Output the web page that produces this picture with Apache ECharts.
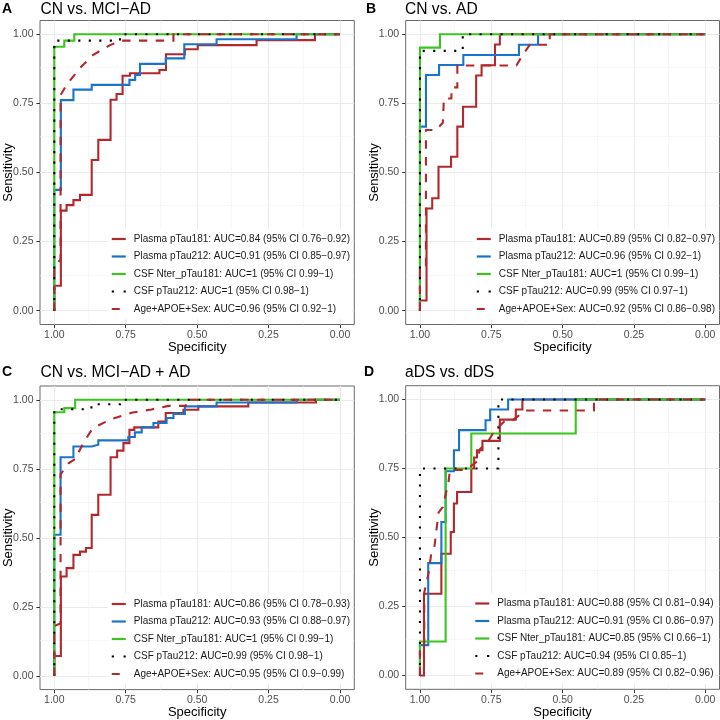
<!DOCTYPE html>
<html><head><meta charset="utf-8">
<script src="https://cdn.jsdelivr.net/npm/echarts@6/dist/echarts.min.js"></script>
<style>html,body{margin:0;padding:0;background:#fff}#c{width:720px;height:720px}</style>
</head><body><div id="c"></div>
<script>
// ---------- data ----------
const panelTags = ['A', 'B', 'C', 'D'];
const panelTitles = ['CN vs. MCI\u2212AD', 'CN vs. AD', 'CN vs. MCI\u2212AD + AD', 'aDS vs. dDS'];
const markerNames = ['Plasma pTau181', 'Plasma pTau212', 'CSF Nter_pTau181', 'CSF pTau212', 'Age+APOE+Sex'];

const aucA = ['AUC=0.84 (95% CI 0.76\u22120.92)', 'AUC=0.91 (95% CI 0.85\u22120.97)', 'AUC=1 (95% CI 0.99\u22121)', 'AUC=1 (95% CI 0.98\u22121)', 'AUC=0.96 (95% CI 0.92\u22121)'];
const aucB = ['AUC=0.89 (95% CI 0.82\u22120.97)', 'AUC=0.96 (95% CI 0.92\u22121)', 'AUC=1 (95% CI 0.99\u22121)', 'AUC=0.99 (95% CI 0.97\u22121)', 'AUC=0.92 (95% CI 0.86\u22120.98)'];
const aucC = ['AUC=0.86 (95% CI 0.78\u22120.93)', 'AUC=0.93 (95% CI 0.88\u22120.97)', 'AUC=1 (95% CI 0.99\u22121)', 'AUC=0.99 (95% CI 0.98\u22121)', 'AUC=0.95 (95% CI 0.9\u22120.99)'];
const aucD = ['AUC=0.88 (95% CI 0.81\u22120.94)', 'AUC=0.91 (95% CI 0.86\u22120.97)', 'AUC=0.85 (95% CI 0.66\u22121)', 'AUC=0.94 (95% CI 0.85\u22121)', 'AUC=0.89 (95% CI 0.82\u22120.96)'];

const tickValues = [0, 0.25, 0.5, 0.75, 1];
const majorGrid = [0, 0.25, 0.5, 0.75, 1];
const minorGrid = [0.125, 0.375, 0.625, 0.875];

// ROC points: [specificity, sensitivity]
const A_pTau181 = [[1,0],[1,0.09],[0.977,0.09],[0.977,0.362],[0.957,0.362],[0.957,0.382],[0.933,0.382],[0.933,0.40],[0.91,0.40],[0.91,0.419],[0.869,0.419],[0.869,0.545],[0.846,0.545],[0.846,0.618],[0.803,0.618],[0.803,0.763],[0.782,0.763],[0.782,0.784],[0.761,0.784],[0.761,0.85],[0.735,0.85],[0.735,0.859],[0.632,0.859],[0.632,0.871],[0.609,0.871],[0.609,0.928],[0.543,0.928],[0.543,0.946],[0.498,0.946],[0.498,0.961],[0.292,0.961],[0.292,0.979],[0.0875,0.979],[0.0875,1],[0,1]];
const A_pTau212 = [[1,0],[1,0.437],[0.977,0.437],[0.977,0.762],[0.933,0.762],[0.933,0.80],[0.869,0.80],[0.869,0.817],[0.737,0.817],[0.737,0.835],[0.717,0.835],[0.717,0.853],[0.70,0.853],[0.70,0.893],[0.61,0.893],[0.61,0.913],[0.545,0.913],[0.545,0.964],[0.432,0.964],[0.432,0.982],[0.152,0.982],[0.152,1],[0,1]];
const A_csfNter = [[1,0],[1,0.955],[0.965,0.955],[0.965,0.977],[0.93,0.977],[0.93,1],[0,1]];
const A_csfP212 = [[1,0],[1,0.977],[0.77,0.977],[0.77,1],[0,1]];
const A_age = [[1,0],[1,0.16],[0.978,0.185],[0.978,0.78],[0.957,0.817],[0.91,0.878],[0.865,0.925],[0.805,0.961],[0.763,0.977],[0.583,0.977],[0.583,1],[0,1]];

const B_pTau181 = [[1,0],[1,0.037],[0.977,0.037],[0.977,0.37],[0.957,0.37],[0.957,0.407],[0.935,0.407],[0.935,0.521],[0.891,0.521],[0.891,0.557],[0.869,0.557],[0.869,0.666],[0.849,0.666],[0.849,0.738],[0.803,0.738],[0.803,0.851],[0.784,0.851],[0.784,0.888],[0.737,0.888],[0.737,0.963],[0.72,0.963],[0.72,1],[0,1]];
const B_pTau212 = [[1,0],[1,0.666],[0.979,0.666],[0.979,0.853],[0.933,0.853],[0.933,0.889],[0.848,0.889],[0.848,0.925],[0.653,0.925],[0.653,0.962],[0.586,0.962],[0.586,1],[0,1]];
const B_csfNter = [[1,0],[1,0.952],[0.93,0.952],[0.93,1],[0,1]];
const B_csfP212 = [[1,0],[1,0.94],[0.85,0.94],[0.85,1],[0,1]];
const B_age = [[1,0],[1,0.155],[0.979,0.155],[0.979,0.654],[0.944,0.654],[0.92,0.68],[0.916,0.768],[0.89,0.768],[0.889,0.808],[0.869,0.808],[0.869,0.887],[0.662,0.887],[0.64,0.925],[0.615,0.962],[0.545,0.962],[0.545,1],[0,1]];

const C_pTau181 = [[1,0],[1,0.072],[0.977,0.072],[0.977,0.36],[0.957,0.36],[0.957,0.39],[0.933,0.39],[0.933,0.438],[0.91,0.438],[0.91,0.45],[0.889,0.45],[0.889,0.463],[0.869,0.463],[0.869,0.583],[0.846,0.583],[0.846,0.656],[0.803,0.656],[0.803,0.792],[0.78,0.792],[0.78,0.816],[0.758,0.816],[0.758,0.843],[0.737,0.843],[0.737,0.891],[0.72,0.891],[0.72,0.9],[0.636,0.9],[0.636,0.921],[0.61,0.921],[0.61,0.952],[0.548,0.952],[0.548,0.964],[0.496,0.964],[0.496,0.976],[0.321,0.976],[0.321,0.99],[0.084,0.99],[0.084,1],[0,1]];
const C_pTau212 = [[1,0],[1,0.511],[0.978,0.511],[0.978,0.792],[0.933,0.792],[0.933,0.831],[0.869,0.831],[0.869,0.837],[0.846,0.837],[0.846,0.853],[0.741,0.853],[0.741,0.865],[0.718,0.865],[0.718,0.882],[0.694,0.882],[0.694,0.9],[0.653,0.9],[0.653,0.916],[0.607,0.916],[0.607,0.934],[0.583,0.934],[0.583,0.949],[0.543,0.949],[0.543,0.976],[0.432,0.976],[0.432,0.99],[0.152,0.99],[0.152,1],[0,1]];
const C_csfNter = [[1,0],[1,0.955],[0.965,0.955],[0.965,0.97],[0.927,0.97],[0.927,1],[0,1]];
const C_csfP212 = [[1,0],[1,0.966],[0.87,0.966],[0.87,0.984],[0.77,0.984],[0.77,1],[0,1]];
const C_age = [[1,0],[1,0.18],[0.978,0.19],[0.978,0.73],[0.95,0.77],[0.92,0.79],[0.915,0.81],[0.9,0.84],[0.87,0.89],[0.85,0.905],[0.8,0.93],[0.73,0.953],[0.66,0.965],[0.6,0.978],[0.54,0.978],[0.54,1],[0,1]];

const D_pTau181 = [[1,0],[0.986,0],[0.986,0.296],[0.925,0.296],[0.925,0.441],[0.892,0.441],[0.892,0.52],[0.881,0.52],[0.881,0.623],[0.87,0.623],[0.87,0.665],[0.82,0.665],[0.82,0.75],[0.81,0.75],[0.81,0.79],[0.8,0.79],[0.8,0.816],[0.781,0.816],[0.781,0.85],[0.72,0.85],[0.72,0.927],[0.664,0.927],[0.664,0.964],[0.641,0.964],[0.641,1],[0,1]];
const D_pTau212 = [[1,0],[1,0.11],[0.971,0.11],[0.971,0.407],[0.925,0.407],[0.925,0.556],[0.91,0.556],[0.91,0.74],[0.881,0.74],[0.881,0.816],[0.863,0.816],[0.863,0.889],[0.77,0.889],[0.77,0.925],[0.754,0.925],[0.754,0.964],[0.691,0.964],[0.691,1],[0,1]];
const D_csfNter = [[1,0],[1,0.123],[0.91,0.123],[0.91,0.75],[0.82,0.75],[0.82,0.877],[0.454,0.877],[0.454,1],[0,1]];
const D_csfP212 = [[1,0],[1,0.75],[0.725,0.75],[0.725,1],[0,1]];
const D_age = [[1,0],[1,0.1],[0.985,0.1],[0.985,0.3],[0.97,0.37],[0.96,0.445],[0.95,0.46],[0.935,0.59],[0.92,0.61],[0.9,0.7],[0.895,0.745],[0.84,0.745],[0.8,0.775],[0.79,0.82],[0.76,0.85],[0.74,0.885],[0.7,0.925],[0.675,0.925],[0.63,0.96],[0.39,0.96],[0.39,1],[0,1]];

const panelCurves = [
  [A_pTau181, A_pTau212, A_csfNter, A_csfP212, A_age],
  [B_pTau181, B_pTau212, B_csfNter, B_csfP212, B_age],
  [C_pTau181, C_pTau212, C_csfNter, C_csfP212, C_age],
  [D_pTau181, D_pTau212, D_csfNter, D_csfP212, D_age]
];
const panelAuc = [aucA, aucB, aucC, aucD];

// ---------- styles / layout ----------
const FONT = 'Liberation Sans, Arial, sans-serif';
const colors = ['#B2282C', '#1B74CC', '#3CC51E', '#000000', '#B2282C'];
const LW = 2.1;
const dashTypes = ['solid', 'solid', 'solid', [2.1, 8.4], [8.4, 8.4]];
const legendIcons = [
  'rect', 'rect', 'rect',
  'path://M0,0h2.2v2.2h-2.2z M11.8,0h2.2v2.2h-2.2z',
  'path://M0,0h8v2.2h-8z M13.95,0h0.05v2.2h-0.05z'
];
const grids = [
  {left: 40, top: 20.5, width: 314.3, height: 304},
  {left: 405.7, top: 20.5, width: 313.8, height: 304},
  {left: 40, top: 386, width: 314.3, height: 303.6},
  {left: 405.7, top: 385.7, width: 313.8, height: 303.6}
];
const legendPos = [
  {right: 368, top: 229},
  {right: 3, top: 229},
  {right: 368, top: 594},
  {right: 4.5, top: 593.5}
];
const tagPos = [{left: 2, top: 2}, {left: 366, top: 2}, {left: 2, top: 365}, {left: 364, top: 365}];
const titlePos = [{left: 40.5, top: 1.5}, {left: 405, top: 1.5}, {left: 40.5, top: 364.5}, {left: 405, top: 364.5}];

const option = {
  animation: false,
  backgroundColor: '#fff',
  title: [], grid: [], xAxis: [], yAxis: [], legend: [], series: []
};

for (let p = 0; p < 4; p++) {
  option.title.push({text: panelTags[p], left: tagPos[p].left, top: tagPos[p].top, padding: 0,
    textStyle: {fontSize: 14, fontWeight: 'bold', color: '#000', fontFamily: FONT}});
  option.title.push({text: panelTitles[p], left: titlePos[p].left, top: titlePos[p].top, padding: 0,
    textStyle: {fontSize: 15.6, fontWeight: 'normal', color: '#000', fontFamily: FONT}});
  option.grid.push(Object.assign({show: true, borderColor: '#6a6a6a', borderWidth: 1, backgroundColor: '#fff',
    containLabel: false, outerBoundsMode: 'none'}, grids[p]));
  option.xAxis.push({
    gridIndex: p, type: 'value', min: -0.05, max: 1.05, inverse: true,
    name: 'Specificity', nameLocation: 'middle', nameGap: 16.5, nameMoveOverlap: false,
    nameTextStyle: {fontSize: 13, color: '#000', fontFamily: FONT},
    axisLine: {show: false, onZero: false},
    axisTick: {show: true, length: 3.6, lineStyle: {color: '#333', width: 1}, customValues: tickValues},
    axisLabel: {customValues: tickValues, formatter: v => v.toFixed(2), fontSize: 10.5, color: '#4D4D4D', margin: 5, fontFamily: FONT},
    splitLine: {show: false}
  });
  option.yAxis.push({
    gridIndex: p, type: 'value', min: -0.05, max: 1.05,
    name: 'Sensitivity', nameLocation: 'middle', nameGap: 25, nameMoveOverlap: false,
    nameTextStyle: {fontSize: 13, color: '#000', fontFamily: FONT},
    axisLine: {show: false, onZero: false},
    axisTick: {show: true, length: 3.6, lineStyle: {color: '#333', width: 1}, customValues: tickValues},
    axisLabel: {customValues: tickValues, formatter: v => v.toFixed(2), fontSize: 10.5, color: '#4D4D4D', margin: 6.5, fontFamily: FONT},
    splitLine: {show: false}
  });
  // background grid lines (drawn through the axes' scales)
  const gl = [];
  majorGrid.forEach(v => { gl.push({xAxis: v, lineStyle: {color: '#EBEBEB', width: 1.1, type: 'solid'}}); gl.push({yAxis: v, lineStyle: {color: '#EBEBEB', width: 1.1, type: 'solid'}}); });
  minorGrid.forEach(v => { gl.push({xAxis: v, lineStyle: {color: '#F2F2F2', width: 0.6, type: 'solid'}}); gl.push({yAxis: v, lineStyle: {color: '#F2F2F2', width: 0.6, type: 'solid'}}); });
  option.series.push({
    type: 'line', name: 'grid' + p, xAxisIndex: p, yAxisIndex: p, data: [], silent: true, z: 1, symbol: 'none',
    markLine: {silent: true, symbol: ['none', 'none'], animation: false, label: {show: false}, z: 1, emphasis: {disabled: true}, data: gl}
  });
  const legendData = [];
  for (let k = 0; k < 5; k++) {
    const nm = markerNames[k] + ': ' + panelAuc[p][k];
    option.series.push({
      type: 'line', name: nm, xAxisIndex: p, yAxisIndex: p, data: panelCurves[p][k],
      symbol: 'none', showSymbol: false, z: 2, silent: true,
      color: colors[k],
      itemStyle: {color: colors[k]},
      lineStyle: {color: colors[k], width: LW, type: dashTypes[k], cap: 'butt', join: 'miter'}
    });
    legendData.push({name: nm, icon: legendIcons[k]});
  }
  option.legend.push({
    data: legendData, orient: 'vertical', right: legendPos[p].right, top: legendPos[p].top,
    itemWidth: 14, itemHeight: 2.2, itemGap: 5.5, selectedMode: false,
    backgroundColor: '#fff', padding: [4, 2, 4, 4],
    itemStyle: {borderWidth: 0},
    textStyle: {fontSize: 10, color: '#1a1a1a', lineHeight: 12, padding: [0, 0, 0, 3], fontFamily: FONT}
  });
}

const chart = echarts.init(document.getElementById('c'), null, {renderer: 'canvas'});
chart.setOption(option);
</script>
</body></html>
